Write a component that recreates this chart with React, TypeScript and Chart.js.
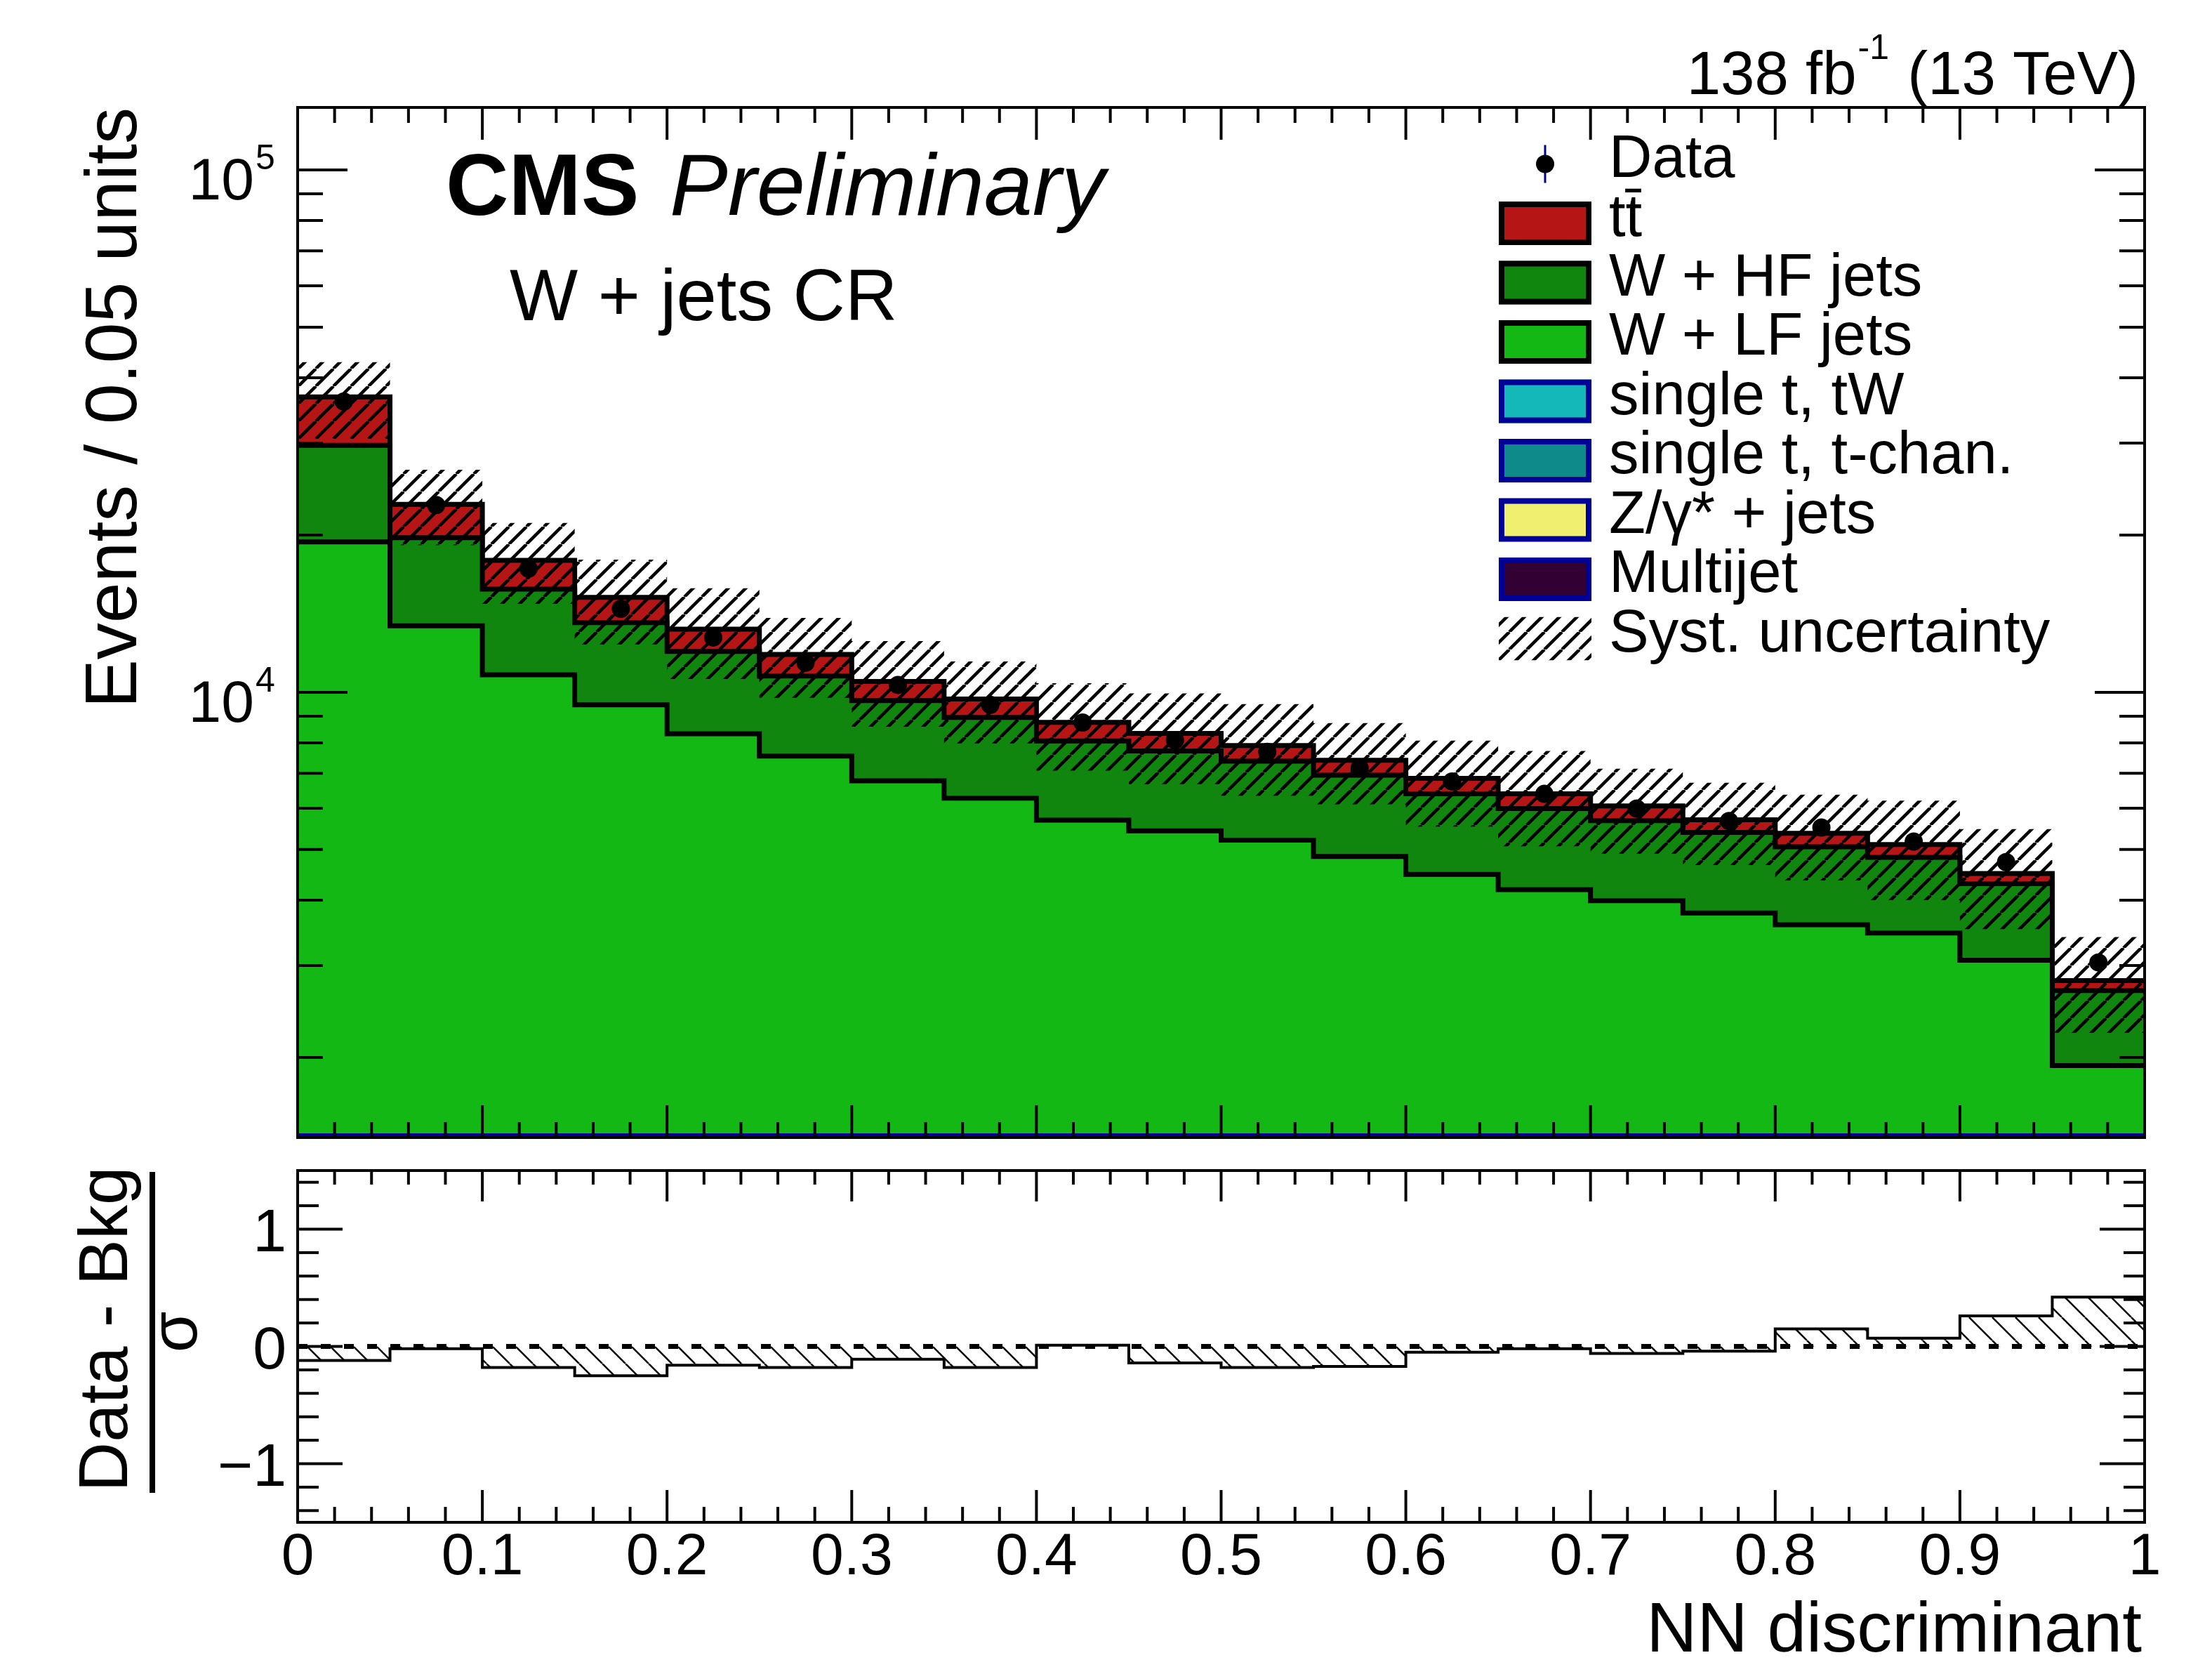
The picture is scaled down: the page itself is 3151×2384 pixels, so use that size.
import React, { useEffect, useRef } from 'react';
import Chart from 'chart.js/auto';

// bin edges of the NN discriminant (20 bins of 0.05)
const binEdges = [0, 0.05, 0.1, 0.15, 0.2, 0.25, 0.3, 0.35, 0.4, 0.45, 0.5, 0.55, 0.6, 0.65, 0.7, 0.75, 0.8, 0.85, 0.9, 0.95, 1.0];

// background yields per bin (events / 0.05 units)
const wLightJets = [19400, 13400, 10800, 9460, 8330, 7550, 6770, 6270, 5690, 5430, 5210, 4850, 4480, 4190, 3990, 3780, 3590, 3460, 3070, 1930];
const wHeavyJets = [10300, 6370, 4960, 4130, 3640, 3190, 2870, 2680, 2380, 2290, 2170, 2090, 1910, 1800, 1690, 1610, 1470, 1370, 1230, 755];
const ttbar = [7070, 3130, 2130, 1600, 1240, 1080, 850, 760, 690, 620, 530, 470, 450, 400, 380, 310, 310, 280, 200, 120];

// observed data
const dataCounts = [36020, 22830, 17250, 14450, 12730, 11390, 10330, 9460, 8750, 8100, 7690, 7160, 6750, 6390, 5990, 5670, 5510, 5180, 4730, 3040];

// systematic band edges
const systUp = [42850, 26670, 21090, 17950, 15820, 13880, 12530, 11460, 10410, 9950, 9490, 8730, 8080, 7720, 7140, 6710, 6370, 6200, 5470, 3400];
const systDown = [30550, 19130, 14760, 12340, 10600, 9760, 8590, 7980, 7080, 6670, 6340, 6100, 5530, 5070, 4910, 4670, 4360, 4000, 3520, 2230];

// (Data - Bkg) / sigma
const pulls = [-0.12, -0.02, -0.18, -0.25, -0.16, -0.18, -0.11, -0.18, 0.01, -0.14, -0.18, -0.17, -0.05, -0.02, -0.06, -0.04, 0.15, 0.07, 0.26, 0.42];

// axes
const xTickValues = [0, 0.1, 0.2, 0.3, 0.4, 0.5, 0.6, 0.7, 0.8, 0.9, 1];
const xTickLabels = ['0', '0.1', '0.2', '0.3', '0.4', '0.5', '0.6', '0.7', '0.8', '0.9', '1'];
const yDecades = [1e4, 1e5];
const yDecadeExponents = ['4', '5'];
const yMinorTicks = [2000, 3000, 4000, 5000, 6000, 7000, 8000, 9000, 20000, 30000, 40000, 50000, 60000, 70000, 80000, 90000];
const pullTickValues = [1, 0, -1];
const pullTickLabels = ['1', '0', '\u22121'];

const legendLabels = ['Data', 'tt\u0304', 'W + HF jets', 'W + LF jets', 'single t, tW', 'single t, t-chan.', 'Z/\u03b3* + jets', 'Multijet', 'Syst. uncertainty'];

const COLORS = {
  ttbar: '#b51515',
  wHF: '#10860f',
  wLF: '#14b814',
  tW: '#14b8b8',
  tChan: '#0f8a8a',
  dy: '#f0ef70',
  multijet: '#320032',
  blue: '#000096',
};
const legendFills = [null, COLORS.ttbar, COLORS.wHF, COLORS.wLF, COLORS.tW, COLORS.tChan, COLORS.dy, COLORS.multijet, null];
const legendBorders = [null, '#000', '#000', '#000', COLORS.blue, COLORS.blue, COLORS.blue, COLORS.blue, null];

const FONT = '"Liberation Sans", Arial, Helvetica, sans-serif';
const font = (size: number, style = '') => `${style} ${size}px ${FONT}`.trim();

const TOP_H = 1645;
const PAGE_W = 3151;
const PAGE_H = 2384;

const stepPoints = (vals: number[]) =>
  vals.flatMap((v, i) => [
    { x: binEdges[i], y: v },
    { x: binEdges[i + 1], y: v },
  ]);

const binCenters = binEdges.slice(0, -1).map((e, i) => (e + binEdges[i + 1]) / 2);

function makeHatch(size: number, width: number, forward: boolean): CanvasPattern | string {
  const c = document.createElement('canvas');
  c.width = size;
  c.height = size;
  const g = c.getContext('2d');
  if (!g) return 'rgba(0,0,0,0.3)';
  g.strokeStyle = '#000';
  g.lineWidth = width;
  for (let k = -1; k <= 1; k++) {
    g.beginPath();
    if (forward) {
      g.moveTo(k * size, size);
      g.lineTo(k * size + size, 0);
    } else {
      g.moveTo(k * size, 0);
      g.lineTo(k * size + size, size);
    }
    g.stroke();
  }
  return g.createPattern(c, 'repeat') || '#000';
}

function line(ctx: CanvasRenderingContext2D, x1: number, y1: number, x2: number, y2: number) {
  ctx.beginPath();
  ctx.moveTo(x1, y1);
  ctx.lineTo(x2, y2);
  ctx.stroke();
}

function drawXTicks(ctx: CanvasRenderingContext2D, chart: any, majTop: number, minTop: number, majBot: number, minBot: number) {
  const { top, bottom } = chart.chartArea;
  const xs = chart.scales.x;
  for (let i = 0; i <= 50; i++) {
    const px = xs.getPixelForValue(i / 50);
    const major = i % 5 === 0;
    line(ctx, px, top, px, top + (major ? majTop : minTop));
    line(ctx, px, bottom, px, bottom - (major ? majBot : minBot));
  }
}

const topDecor = {
  id: 'topDecor',
  afterDraw(chart: any) {
    const ctx: CanvasRenderingContext2D = chart.ctx;
    const { left, right, top, bottom } = chart.chartArea;
    const ys = chart.scales.y;
    ctx.save();

    // small backgrounds sit below the axis minimum: their outline runs along the floor
    ctx.strokeStyle = COLORS.blue;
    ctx.lineWidth = 4;
    line(ctx, left, bottom - 4, right, bottom - 4);

    ctx.strokeStyle = '#000';
    ctx.lineWidth = 4;
    ctx.strokeRect(left, top, right - left, bottom - top);
    drawXTicks(ctx, chart, 46, 22, 46, 22);

    yMinorTicks.forEach((v) => {
      const py = ys.getPixelForValue(v);
      if (py < top || py > bottom) return;
      line(ctx, left, py, left + 36, py);
      line(ctx, right, py, right - 36, py);
    });
    ctx.fillStyle = '#000';
    yDecades.forEach((v, i) => {
      const py = ys.getPixelForValue(v);
      line(ctx, left, py, left + 71, py);
      line(ctx, right, py, right - 71, py);
      ctx.font = font(84);
      ctx.textAlign = 'right';
      ctx.textBaseline = 'alphabetic';
      ctx.fillText('10', 362, py + 42);
      ctx.font = font(50);
      ctx.textAlign = 'left';
      ctx.fillText(yDecadeExponents[i], 364, py - 1);
    });

    // y title
    ctx.save();
    ctx.translate(194, top);
    ctx.rotate(-Math.PI / 2);
    ctx.font = font(104);
    ctx.textAlign = 'right';
    ctx.fillText('Events / 0.05 units', 0, 0);
    ctx.restore();

    // lumi label
    ctx.textBaseline = 'alphabetic';
    ctx.font = font(87);
    const partA = '138 fb';
    const partC = ' (13 TeV)';
    const wA = ctx.measureText(partA).width;
    const wC = ctx.measureText(partC).width;
    ctx.font = font(50);
    const wB = ctx.measureText('-1').width;
    const x0 = 3046 - wA - wB - wC - 4;
    ctx.font = font(87);
    ctx.textAlign = 'left';
    ctx.fillText(partA, x0, 134);
    ctx.font = font(50);
    ctx.fillText('-1', x0 + wA + 2, 84);
    ctx.font = font(87);
    ctx.fillText(partC, x0 + wA + wB + 4, 134);

    // CMS label
    ctx.font = font(124, 'bold');
    ctx.fillText('CMS', 635, 306);
    ctx.font = font(124, 'italic');
    ctx.fillText('Preliminary', 954, 306);
    ctx.font = font(103);
    ctx.fillText('W + jets CR', 726, 456);

    // legend
    const boxL = 2135;
    const boxW = 132;
    const boxH = 62;
    legendLabels.forEach((label, i) => {
      const cy = 233.5 + i * 84.5;
      if (i === 0) {
        ctx.strokeStyle = COLORS.blue;
        ctx.lineWidth = 3;
        line(ctx, boxL + boxW / 2, cy - 27, boxL + boxW / 2, cy + 27);
        ctx.fillStyle = '#000';
        ctx.beginPath();
        ctx.arc(boxL + boxW / 2, cy, 13, 0, Math.PI * 2);
        ctx.fill();
      } else if (legendFills[i]) {
        ctx.fillStyle = legendFills[i] as string;
        ctx.fillRect(boxL, cy - boxH / 2, boxW, boxH);
        ctx.strokeStyle = legendBorders[i] as string;
        ctx.lineWidth = 8;
        ctx.strokeRect(boxL + 4, cy - boxH / 2 + 4, boxW - 8, boxH - 8);
      } else {
        ctx.save();
        ctx.beginPath();
        ctx.rect(boxL, cy - boxH / 2, boxW, boxH);
        ctx.clip();
        ctx.fillStyle = chart.$hatch;
        ctx.fillRect(boxL, cy - boxH / 2, boxW, boxH);
        ctx.restore();
      }
      ctx.fillStyle = '#000';
      ctx.font = font(85);
      ctx.textAlign = 'left';
      ctx.textBaseline = 'alphabetic';
      ctx.fillText(label, 2292, cy + 18);
    });

    ctx.restore();
  },
};

const bottomDecor = {
  id: 'bottomDecor',
  afterDatasetsDraw(chart: any) {
    const ctx: CanvasRenderingContext2D = chart.ctx;
    const { left, right } = chart.chartArea;
    const py = chart.scales.y.getPixelForValue(0);
    ctx.save();
    ctx.strokeStyle = '#000';
    ctx.lineWidth = 7;
    ctx.setLineDash([14, 19]);
    line(ctx, left, py, right, py);
    ctx.restore();
  },
  afterDraw(chart: any) {
    const ctx: CanvasRenderingContext2D = chart.ctx;
    const { left, right, top, bottom } = chart.chartArea;
    const xs = chart.scales.x;
    const ys = chart.scales.y;
    ctx.save();
    ctx.strokeStyle = '#000';
    ctx.fillStyle = '#000';
    ctx.lineWidth = 4;
    ctx.strokeRect(left, top, right - left, bottom - top);
    drawXTicks(ctx, chart, 44, 20, 46, 22);

    for (let k = -7; k <= 7; k++) {
      const p = ys.getPixelForValue(k * 0.2);
      const len = k % 5 === 0 ? 64 : 30;
      line(ctx, left, p, left + len, p);
      line(ctx, right, p, right - len, p);
    }

    ctx.font = font(86);
    ctx.textBaseline = 'alphabetic';
    ctx.textAlign = 'right';
    pullTickValues.forEach((v, i) => {
      ctx.fillText(pullTickLabels[i], 408, ys.getPixelForValue(v) + 31);
    });

    ctx.font = font(84);
    ctx.textAlign = 'center';
    xTickValues.forEach((v, i) => {
      ctx.fillText(xTickLabels[i], xs.getPixelForValue(v), 597);
    });

    ctx.font = font(100);
    ctx.textAlign = 'right';
    ctx.fillText('NN discriminant', 3051, 707);

    // y title: (Data - Bkg) / sigma
    ctx.save();
    ctx.translate(181, 248);
    ctx.rotate(-Math.PI / 2);
    ctx.font = font(98);
    ctx.textAlign = 'center';
    ctx.fillText('Data - Bkg', 0, 0);
    ctx.restore();
    ctx.fillRect(213, 24, 8, 457);
    ctx.save();
    ctx.translate(280, 252);
    ctx.rotate(-Math.PI / 2);
    ctx.font = font(95);
    ctx.textAlign = 'center';
    ctx.fillText('\u03c3', 0, 0);
    ctx.restore();

    ctx.restore();
  },
};

const App: React.FC = () => {
  const topRef = useRef<HTMLCanvasElement>(null);
  const bottomRef = useRef<HTMLCanvasElement>(null);

  useEffect(() => {
    if (!topRef.current || !bottomRef.current) return;

    const hfTop = wLightJets.map((v, i) => v + wHeavyJets[i]);
    const stackTop = hfTop.map((v, i) => v + ttbar[i]);
    const hatchTop = makeHatch(25, 4.5, true);
    const hatchPull = makeHatch(33, 2.5, false);

    const stepStyle = {
      borderColor: '#000',
      borderWidth: 7,
      borderJoinStyle: 'miter' as const,
      pointRadius: 0,
      tension: 0,
      fill: 'start' as const,
    };

    const top = new Chart(topRef.current, {
      type: 'line',
      data: {
        datasets: [
          { label: 'W + LF jets', data: stepPoints(wLightJets), backgroundColor: COLORS.wLF, order: 3, ...stepStyle },
          { label: 'W + HF jets', data: stepPoints(hfTop), backgroundColor: COLORS.wHF, order: 4, ...stepStyle },
          { label: 'tt', data: stepPoints(stackTop), backgroundColor: COLORS.ttbar, order: 5, ...stepStyle },
          {
            label: 'Syst. up',
            data: stepPoints(systUp),
            borderColor: 'rgba(0,0,0,0)',
            borderWidth: 1,
            backgroundColor: hatchTop as any,
            fill: '+1',
            pointRadius: 0,
            order: 2,
          },
          {
            label: 'Syst. down',
            data: stepPoints(systDown),
            borderColor: 'rgba(0,0,0,0)',
            borderWidth: 1,
            fill: false,
            pointRadius: 0,
            order: 2,
          },
          {
            label: 'Data',
            data: binCenters.map((x, i) => ({ x, y: dataCounts[i] })),
            showLine: false,
            pointRadius: 13,
            pointBackgroundColor: '#000',
            pointBorderWidth: 0,
            order: 1,
          },
        ],
      },
      options: {
        animation: false,
        responsive: false,
        devicePixelRatio: 1,
        events: [],
        layout: { padding: { left: 424, right: PAGE_W - 3055, top: 153, bottom: TOP_H - 1620 } },
        plugins: { legend: { display: false }, tooltip: { enabled: false } },
        scales: {
          x: { type: 'linear', min: 0, max: 1, display: false },
          y: { type: 'logarithmic', min: 1405, max: 131700, display: false },
        },
      },
      plugins: [topDecor],
    });
    (top as any).$hatch = hatchTop;
    top.draw();

    const bottom = new Chart(bottomRef.current, {
      type: 'line',
      data: {
        datasets: [
          {
            label: '(Data - Bkg) / sigma',
            data: stepPoints(pulls),
            borderColor: '#000',
            borderWidth: 4,
            borderJoinStyle: 'miter',
            backgroundColor: hatchPull as any,
            fill: { value: 0 },
            pointRadius: 0,
            tension: 0,
          },
        ],
      },
      options: {
        animation: false,
        responsive: false,
        devicePixelRatio: 1,
        events: [],
        layout: { padding: { left: 424, right: PAGE_W - 3055, top: 22, bottom: PAGE_H - 2168 } },
        plugins: { legend: { display: false }, tooltip: { enabled: false } },
        scales: {
          x: { type: 'linear', min: 0, max: 1, display: false },
          y: { type: 'linear', min: -1.5, max: 1.5, display: false },
        },
      },
      plugins: [bottomDecor],
    });

    return () => {
      top.destroy();
      bottom.destroy();
    };
  }, []);

  return (
    <div style={{ position: 'absolute', left: 0, top: 0, width: PAGE_W, height: PAGE_H, background: '#fff' }}>
      <canvas
        ref={topRef}
        width={PAGE_W}
        height={TOP_H}
        style={{ position: 'absolute', left: 0, top: 0, width: PAGE_W, height: TOP_H }}
      />
      <canvas
        ref={bottomRef}
        width={PAGE_W}
        height={PAGE_H - TOP_H}
        style={{ position: 'absolute', left: 0, top: TOP_H, width: PAGE_W, height: PAGE_H - TOP_H }}
      />
    </div>
  );
};

export default App;
